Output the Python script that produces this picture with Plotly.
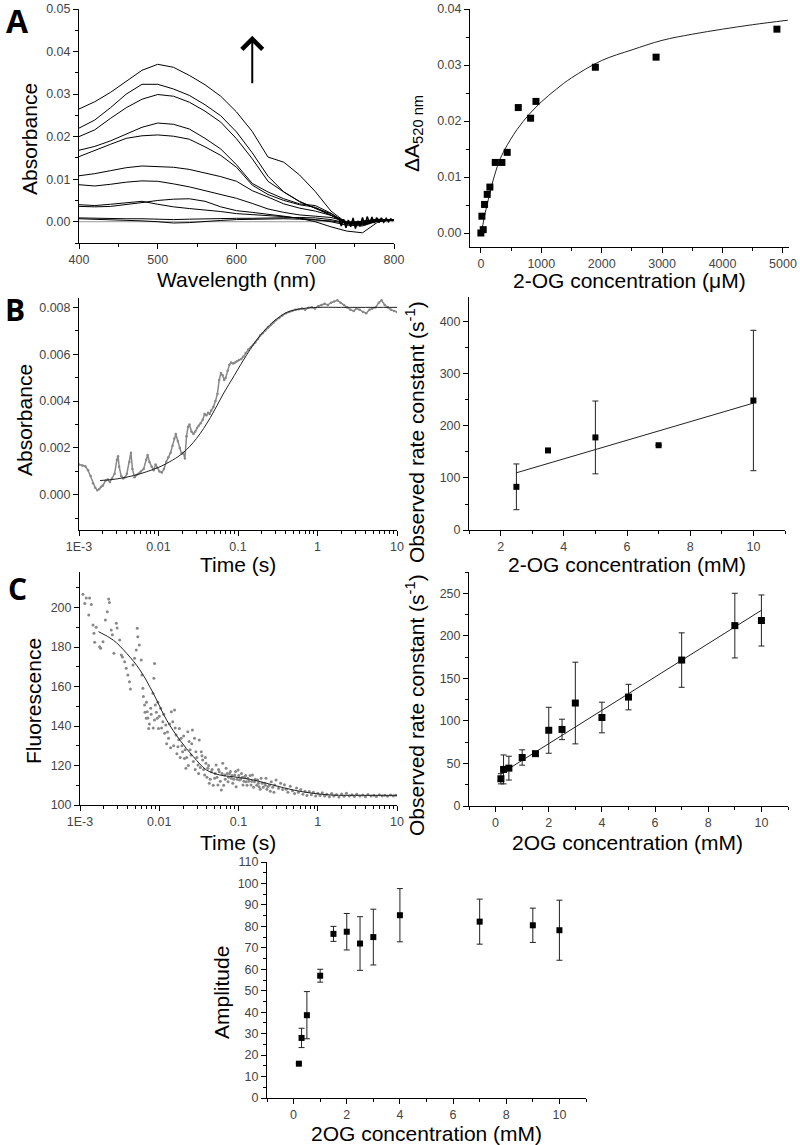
import plotly.graph_objects as go

# ---------------- A (left): absorbance spectra ----------------
wavelength = [400, 420, 440, 460, 480, 500, 520, 540, 560, 580, 600,
              620, 640, 660, 680, 700, 720, 740, 760, 780, 800]
spec_1 = [0.0265, 0.0282, 0.0304, 0.0331, 0.0356, 0.0370, 0.0363, 0.0344, 0.0322, 0.0295, 0.0258,
          0.0212, 0.0152, 0.0140, 0.0110, 0.0071, 0.0025, -0.0003, 0.0002, 0.0006, 0.0004]
spec_2 = [0.0220, 0.0239, 0.0268, 0.0300, 0.0323, 0.0323, 0.0312, 0.0297, 0.0275, 0.0249, 0.0211,
          0.0162, 0.0107, 0.0070, 0.0047, 0.0032, 0.0019, -0.0003, 0.0000, 0.0005, 0.0004]
spec_3 = [0.0200, 0.0216, 0.0243, 0.0268, 0.0288, 0.0299, 0.0295, 0.0281, 0.0260, 0.0234, 0.0195,
          0.0148, 0.0095, 0.0070, 0.0048, 0.0032, 0.0015, -0.0005, -0.0003, 0.0004, 0.0004]
spec_4 = [0.0168, 0.0177, 0.0190, 0.0206, 0.0222, 0.0232, 0.0229, 0.0218, 0.0196, 0.0171, 0.0134,
          0.0090, 0.0070, 0.0054, 0.0042, 0.0038, 0.0020, -0.0005, -0.0008, 0.0003, 0.0004]
spec_5 = [0.0153, 0.0168, 0.0182, 0.0196, 0.0202, 0.0204, 0.0201, 0.0194, 0.0176, 0.0156, 0.0128,
          0.0086, 0.0064, 0.0050, 0.0040, 0.0034, 0.0016, -0.0003, -0.0006, 0.0003, 0.0004]
spec_6 = [0.0108, 0.0113, 0.0120, 0.0127, 0.0131, 0.0130, 0.0128, 0.0123, 0.0115, 0.0106, 0.0095,
          0.0073, 0.0058, 0.0042, 0.0032, 0.0025, 0.0015, 0.0000, -0.0004, 0.0004, 0.0004]
spec_7 = [0.0087, 0.0084, 0.0088, 0.0093, 0.0096, 0.0095, 0.0089, 0.0082, 0.0073, 0.0064, 0.0055,
          0.0043, 0.0030, 0.0022, 0.0016, 0.0013, 0.0010, 0.0000, -0.0002, 0.0004, 0.0004]
spec_8 = [0.0040, 0.0038, 0.0041, 0.0044, 0.0048, 0.0041, 0.0035, 0.0031, 0.0028, 0.0024, 0.0019,
          0.0017, 0.0015, 0.0012, 0.0008, 0.0005, 0.0000, -0.0008, -0.0010, 0.0002, 0.0004]
spec_9 = [0.0036, 0.0035, 0.0036, 0.0040, 0.0045, 0.0050, 0.0053, 0.0054, 0.0048, 0.0035, 0.0026,
          0.0022, 0.0018, 0.0013, 0.0008, 0.0000, -0.0012, -0.0022, -0.0026, 0.0000, 0.0004]
spec_10 = [0.0009, 0.0008, 0.0007, 0.0007, 0.0007, 0.0006, 0.0005, 0.0006, 0.0007, 0.0008, 0.0008,
           0.0008, 0.0009, 0.0010, 0.0010, 0.0009, 0.0005, -0.0003, -0.0005, 0.0003, 0.0004]
spec_11 = [0.0007, 0.0006, 0.0005, 0.0004, 0.0002, 0.0000, -0.0003, -0.0002, 0.0001, 0.0003, 0.0005,
           0.0006, 0.0007, 0.0007, 0.0006, 0.0004, 0.0002, -0.0004, -0.0006, 0.0002, 0.0004]
spectra = [spec_1, spec_2, spec_3, spec_4, spec_5, spec_6, spec_7, spec_8, spec_9, spec_10, spec_11]
baseline = [0.0] * len(wavelength)
# noisy tail where all spectra overlap
tail_wl = [730, 733, 736, 739, 742, 745, 748, 751, 754, 757, 760, 763,
           766, 769, 772, 775, 778, 781, 784, 787, 790, 793, 796, 799]
tail_abs = [0.0008, -0.0010, 0.0006, -0.0014, 0.0004, -0.0012, 0.0009, -0.0016, 0.0002, -0.0011,
            0.0010, -0.0008, 0.0012, -0.0004, 0.0011, -0.0003, 0.0010, -0.0002, 0.0009, -0.0001,
            0.0008, 0.0000, 0.0007, 0.0002]

# ---------------- A (right): dA520 vs 2-OG ----------------
og_um = [0, 39, 17, 61, 105, 149, 238, 348, 436, 619, 823, 912, 1895, 2900, 4900]
dA520 = [0.0000, 0.0006, 0.0030, 0.0051, 0.0069, 0.0082, 0.0126, 0.0126, 0.0144,
         0.0224, 0.0205, 0.0235, 0.0296, 0.0314, 0.0364]
fit_um = [10, 50, 100, 200, 300, 400, 600, 800, 1000, 1250, 1500, 2000, 2500, 3000,
          3500, 4000, 4500, 5080]
fit_dA = [0.0000, 0.0025, 0.0049, 0.0093, 0.0127, 0.0150, 0.0185, 0.0212, 0.0234, 0.0257,
          0.0277, 0.0308, 0.0327, 0.0344, 0.0355, 0.0364, 0.0372, 0.0380]

# ---------------- B (left): absorbance trace ----------------
b_time = [0.00100, 0.00110, 0.00120, 0.00130, 0.00140, 0.00150, 0.00160, 0.00170, 0.00180, 0.00190,
          0.00200, 0.00215, 0.00230, 0.00245, 0.00260, 0.00280, 0.00300, 0.00310, 0.00320, 0.00340,
          0.00360, 0.00380, 0.00400, 0.00430, 0.00450, 0.00470, 0.00500, 0.00530, 0.00560, 0.00600,
          0.00650, 0.00700, 0.00730, 0.00770, 0.00820, 0.00870, 0.00920, 0.00970, 0.0103, 0.0110,
          0.0117, 0.0125, 0.0133, 0.0142, 0.0150, 0.0158, 0.0165, 0.0175, 0.0185, 0.0195,
          0.0205, 0.0215, 0.0225, 0.0235, 0.0245, 0.0260, 0.0275, 0.0290, 0.0305, 0.0320,
          0.0340, 0.0360, 0.0380, 0.0400, 0.0420, 0.0440, 0.0460, 0.0490, 0.0520, 0.0550,
          0.0580, 0.0610, 0.0640, 0.0670, 0.0700, 0.0740, 0.0780, 0.0820, 0.0870, 0.0920,
          0.0970, 0.103, 0.110, 0.117, 0.125, 0.135, 0.145, 0.155, 0.165, 0.178,
          0.190, 0.205, 0.220, 0.240, 0.260, 0.280, 0.300, 0.330, 0.360, 0.400,
          0.440, 0.480, 0.530, 0.580, 0.640, 0.700, 0.770, 0.850, 0.930, 1.02,
          1.12, 1.23, 1.35, 1.48, 1.62, 1.78, 1.95, 2.15, 2.35, 2.60,
          2.85, 3.10, 3.40, 3.75, 4.10, 4.50, 4.90, 5.40, 5.90, 6.40,
          7.00, 7.70, 8.40, 9.20, 10.0]
b_abs = [0.00130, 0.00125, 0.00122, 0.00105, 0.00080, 0.00050, 0.00030, 0.00020, 0.00025, 0.00035,
         0.00040, 0.00060, 0.00065, 0.00055, 0.00070, 0.00090, 0.00150, 0.00165, 0.00120, 0.00080,
         0.00070, 0.00075, 0.00090, 0.00140, 0.00180, 0.00110, 0.00075, 0.00085, 0.00090, 0.00100,
         0.00110, 0.00150, 0.00170, 0.00140, 0.00120, 0.00105, 0.00130, 0.00115, 0.00100, 0.00095,
         0.00110, 0.00140, 0.00160, 0.00180, 0.00210, 0.00240, 0.00260, 0.00230, 0.00200, 0.00175,
         0.00180, 0.00155, 0.00250, 0.00290, 0.00300, 0.00270, 0.00260, 0.00270, 0.00285, 0.00295,
         0.00305, 0.00320, 0.00345, 0.00340, 0.00350, 0.00345, 0.00360, 0.00375, 0.00400, 0.00430,
         0.00490, 0.00520, 0.00510, 0.00490, 0.00500, 0.00530, 0.00555, 0.00565, 0.00560, 0.00565,
         0.00570, 0.00575, 0.00580, 0.00590, 0.00605, 0.00620, 0.00630, 0.00640, 0.00650, 0.00665,
         0.00680, 0.00690, 0.00700, 0.00715, 0.00725, 0.00735, 0.00745, 0.00755, 0.00765, 0.00775,
         0.00780, 0.00785, 0.00790, 0.00792, 0.00795, 0.00790, 0.00798, 0.00800, 0.00795, 0.00805,
         0.00810, 0.00815, 0.00810, 0.00820, 0.00825, 0.00830, 0.00820, 0.00810, 0.00800, 0.00790,
         0.00785, 0.00795, 0.00790, 0.00780, 0.00775, 0.00790, 0.00795, 0.00800, 0.00820, 0.00830,
         0.00810, 0.00800, 0.00790, 0.00785, 0.00780]
b_fit_time = [0.00184, 0.00300, 0.00482, 0.00700, 0.01045, 0.0150, 0.0205, 0.0300, 0.0450, 0.0650,
              0.0900, 0.130, 0.190, 0.280, 0.420, 0.650, 1.0, 2.0, 5.0, 10.0]
b_fit_abs = [0.00061, 0.00068, 0.00082, 0.00098, 0.00120, 0.00148, 0.00180, 0.00240, 0.00330, 0.00430,
             0.00510, 0.00600, 0.00680, 0.00740, 0.00780, 0.00795, 0.00800, 0.00800, 0.00800, 0.00800]

# ---------------- B (right): kobs vs 2-OG ----------------
b_conc = [2.5, 3.5, 5, 7, 10]
b_kobs = [83, 153, 178, 163, 249]
b_kerr = [44, 0, 70, 0, 135]
b_fit_conc = [2.5, 10]
b_fit_k = [110, 244]

# ---------------- C (left): fluorescence trace ----------------
c_time = [0.00109, 0.00115, 0.00120, 0.00129, 0.00132, 0.00139, 0.00146, 0.00150, 0.00153, 0.00160,
          0.00177, 0.00182, 0.00195, 0.00209, 0.00221, 0.00230, 0.00235, 0.00248, 0.00256, 0.00268,
          0.00287, 0.00294, 0.00316, 0.00332, 0.00343, 0.00366, 0.00383, 0.00402, 0.00421, 0.00432,
          0.00466, 0.00488, 0.00513, 0.00528, 0.00536, 0.00560, 0.00593, 0.00605, 0.00622, 0.00653,
          0.00686, 0.00706, 0.00736, 0.00781, 0.00832, 0.00856, 0.00873, 0.00890, 0.00943, 0.00978,
          0.0104, 0.0111, 0.0117, 0.0121, 0.0131, 0.0142, 0.0148, 0.0156, 0.0163, 0.0172,
          0.0179, 0.0189, 0.0197, 0.0208, 0.0217, 0.0229, 0.0238, 0.0252, 0.0262, 0.0279,
          0.0290, 0.0308, 0.0320, 0.0339, 0.0353, 0.0374, 0.0388, 0.0411, 0.0428, 0.0452,
          0.0500, 0.0521, 0.0550, 0.0573, 0.0607, 0.0632, 0.0669, 0.0697, 0.0738, 0.0768,
          0.0813, 0.0847, 0.0897, 0.0934, 0.0988, 0.103, 0.109, 0.114, 0.120, 0.125,
          0.131, 0.144, 0.150, 0.159, 0.175, 0.182, 0.193, 0.213, 0.222, 0.235,
          0.259, 0.286, 0.298]
c_fluor = [206.7, 202.0, 204.8, 196.2, 204.8, 201.6, 191.1, 187.0, 182.4, 190.0,
           180.2, 179.4, 182.7, 193.7, 197.9, 204.3, 202.5, 188.6, 186.2, 176.8,
           192.0, 189.6, 183.5, 176.0, 175.0, 172.6, 169.2, 165.8, 162.4, 158.7,
           170.9, 174.3, 178.5, 189.5, 185.2, 181.0, 173.4, 165.8, 159.1, 150.6,
           143.9, 147.2, 138.8, 149.0, 156.6, 164.2, 171.7, 150.6, 143.9, 138.8,
           149.0, 142.2, 136.3, 140.5, 133.8, 147.2, 142.2, 148.1, 135.4, 129.5,
           138.8, 133.8, 127.0, 123.6, 118.6, 137.1, 132.1, 125.3, 138.0, 133.8,
           127.0, 120.3, 132.9, 127.0, 122.8, 115.2, 121.1, 118.6, 111.0, 116.9,
           113.5, 120.3, 110.1, 116.9, 107.6, 121.1, 115.2, 118.6, 111.8, 116.0,
           113.5, 111.0, 115.2, 109.3, 117.7, 112.7, 116.0, 110.1, 114.3, 111.8,
           113.5, 110.1, 115.2, 111.8, 112.7, 109.3, 113.5, 111.0, 113.5, 109.3,
           111.8, 110.1, 112.7]
c_time_2 = [0.0063, 0.0066, 0.0069, 0.0072, 0.0075, 0.0079, 0.0084, 0.0087, 0.0092, 0.0096,
            0.0100, 0.0107, 0.0114, 0.0124, 0.0127, 0.0135, 0.0139, 0.0152, 0.0159, 0.0167,
            0.0176, 0.0184, 0.0193, 0.0203, 0.0212, 0.0222, 0.0233, 0.0245, 0.0257, 0.0270,
            0.0284, 0.0298, 0.0314, 0.0330, 0.0346, 0.0363, 0.0381, 0.0400, 0.0420, 0.0440,
            0.0465, 0.0480, 0.0510, 0.0535, 0.0560, 0.0590, 0.0620, 0.0650, 0.0680, 0.0720,
            0.0750, 0.0790, 0.0830, 0.0870, 0.0920, 0.0960, 0.101, 0.106, 0.112, 0.117,
            0.123, 0.128, 0.135, 0.140, 0.147, 0.155, 0.163, 0.170, 0.178, 0.188,
            0.198, 0.205, 0.218, 0.228, 0.245, 0.252, 0.270, 0.280]
c_fluor_2 = [155, 147, 152, 144, 141, 146, 139, 143, 147, 152,
             145, 139, 146, 131, 137, 141, 129, 130, 139, 126,
             133, 124, 130, 135, 128, 124, 120, 128, 131, 122,
             118, 124, 116, 119, 125, 118, 124, 114, 120, 113,
             118, 110, 116, 114, 118, 112, 116, 110, 113, 116,
             114, 117, 115, 113, 117, 113, 115, 113, 114, 112,
             115, 110, 112, 115, 112, 109, 113, 110, 111, 108,
             111, 109, 110, 108, 110, 107, 109, 106.5]
c_time_3 = [0.32, 0.34, 0.36, 0.38, 0.40, 0.42, 0.45, 0.48, 0.51, 0.54,
            0.57, 0.61, 0.65, 0.69, 0.73, 0.78, 0.83, 0.88, 0.94, 1.0,
            1.07, 1.14, 1.22, 1.3, 1.4, 1.5, 1.6, 1.72, 1.85, 2.0,
            2.15, 2.3, 2.5, 2.7, 2.9, 3.1, 3.4, 3.7, 4.0, 4.3,
            4.7, 5.1, 5.5, 6.0, 6.5, 7.0, 7.6, 8.3, 9.0, 9.7]
c_fluor_3 = [108.5, 111.0, 107.8, 110.2, 108.0, 106.5, 109.5, 107.2, 105.8, 108.6,
             106.4, 107.8, 105.5, 107.0, 104.8, 106.8, 105.2, 106.5, 104.5, 105.9,
             104.8, 106.2, 104.6, 105.5, 104.2, 105.8, 104.5, 105.3, 104.0, 105.6,
             104.4, 106.0, 104.6, 105.2, 104.3, 105.4, 104.5, 105.1, 104.2, 105.3,
             104.6, 105.0, 104.3, 105.2, 104.5, 105.0, 104.4, 105.1, 104.6, 104.9]
c_fit_time = [0.00171, 0.00263, 0.00388, 0.00571, 0.0084, 0.0124, 0.0182, 0.0269, 0.0396, 0.0582,
              0.0857, 0.153, 0.274, 0.49, 0.875, 1.56, 3.0, 10.0]
c_fit_fluor = [187.8, 183.5, 176.8, 168.4, 156.6, 143.0, 132.9, 124.5, 117.7, 115.2,
               114.3, 112.7, 110.1, 107.6, 105.9, 105.0, 104.9, 104.9]

# ---------------- C (right): kobs vs 2OG ----------------
c_conc = [0.2, 0.3, 0.5, 1, 1.5, 2, 2.5, 3, 4, 5, 7, 9, 10]
c_kobs = [32, 43, 44.5, 57, 61.5, 89, 90, 121, 104, 128, 171.5, 212, 218]
c_kerr = [6, 17, 14, 9, 2, 27, 12, 48, 18, 15, 32, 38, 30]
c_fit_conc = [0.2, 10]
c_fit_k = [38, 230]

# ---------------- bottom: amplitude vs 2OG ----------------
d_conc = [0.2, 0.3, 0.5, 1, 1.5, 2, 2.5, 3, 4, 7, 9, 10]
d_amp = [16, 28, 38.6, 57, 76.5, 77.5, 72, 75, 85.2, 82.2, 80.5, 78.2]
d_err = [0, 4.5, 11, 3, 3.5, 8.5, 12.5, 13, 12.4, 10.5, 8, 14]

W, H = 800, 1145
FONT = "Liberation Sans, Arial, sans-serif"
TICKFONT = dict(family=FONT, size=12.5, color="#444")


def px_x(a, b):
    return [a / W, b / W]


def px_y(top, bottom):
    return [1 - bottom / H, 1 - top / H]


def axis(domain, rng, anchor, dtick=None, minor_dtick=None, **kw):
    d = dict(domain=domain, range=rng, anchor=anchor, showline=True, linecolor="black",
             linewidth=1, ticks="outside", ticklen=5, tickwidth=1, tickcolor="black",
             showgrid=False, zeroline=False, tickfont=TICKFONT, automargin=False)
    if dtick is not None:
        d["dtick"] = dtick
        d["tick0"] = 0
    if minor_dtick is not None:
        d["minor"] = dict(ticks="outside", ticklen=3, tickcolor="black", dtick=minor_dtick,
                          showgrid=False)
    d.update(kw)
    return d


log_minor = [m * 10.0 ** e for e in range(-3, 1) for m in range(2, 10)]
log_axis = dict(type="log", tickvals=[0.001, 0.01, 0.1, 1, 10],
                ticktext=["1E-3", "0.01", "0.1", "1", "10"],
                minor=dict(ticks="outside", ticklen=3, tickcolor="black", tickvals=log_minor))

fig = go.Figure()

# A left
fig.add_trace(go.Scatter(x=wavelength, y=baseline, mode="lines",
                         line=dict(color="#999", width=1), xaxis="x", yaxis="y"))
for s in spectra:
    fig.add_trace(go.Scatter(x=wavelength, y=s, mode="lines",
                             line=dict(color="black", width=1), xaxis="x", yaxis="y"))
fig.add_trace(go.Scatter(x=tail_wl, y=tail_abs, mode="lines",
                         line=dict(color="black", width=1.5), xaxis="x", yaxis="y"))

# A right
fig.add_trace(go.Scatter(x=fit_um, y=fit_dA, mode="lines", line=dict(color="#222", width=1),
                         line_shape="spline", xaxis="x2", yaxis="y2"))
fig.add_trace(go.Scatter(x=og_um, y=dA520, mode="markers",
                         marker=dict(symbol="square", size=7, color="black"),
                         xaxis="x2", yaxis="y2"))

# B left
fig.add_trace(go.Scatter(x=b_time, y=b_abs, mode="lines+markers",
                         line=dict(color="#888", width=1.5),
                         marker=dict(color="#888", size=2.5), xaxis="x3", yaxis="y3"))
fig.add_trace(go.Scatter(x=b_fit_time, y=b_fit_abs, mode="lines", line_shape="spline",
                         line=dict(color="#222", width=1), xaxis="x3", yaxis="y3"))

# B right
fig.add_trace(go.Scatter(x=b_fit_conc, y=b_fit_k, mode="lines", line=dict(color="#222", width=1),
                         xaxis="x4", yaxis="y4"))
fig.add_trace(go.Scatter(x=b_conc, y=b_kobs, mode="markers",
                         marker=dict(symbol="square", size=6, color="black"),
                         error_y=dict(type="data", array=b_kerr, color="#222", thickness=1, width=3),
                         xaxis="x4", yaxis="y4"))

# C left
for tx, fy in [(c_time, c_fluor), (c_time_2, c_fluor_2), (c_time_3, c_fluor_3)]:
    fig.add_trace(go.Scatter(x=tx, y=fy, mode="markers", marker=dict(color="#888", size=3),
                             xaxis="x5", yaxis="y5"))
fig.add_trace(go.Scatter(x=c_fit_time, y=c_fit_fluor, mode="lines", line_shape="spline",
                         line=dict(color="#222", width=1), xaxis="x5", yaxis="y5"))

# C right
fig.add_trace(go.Scatter(x=c_fit_conc, y=c_fit_k, mode="lines", line=dict(color="#222", width=1),
                         xaxis="x6", yaxis="y6"))
fig.add_trace(go.Scatter(x=c_conc, y=c_kobs, mode="markers",
                         marker=dict(symbol="square", size=7, color="black"),
                         error_y=dict(type="data", array=c_kerr, color="#222", thickness=1, width=3),
                         xaxis="x6", yaxis="y6"))

# bottom
fig.add_trace(go.Scatter(x=d_conc, y=d_amp, mode="markers",
                         marker=dict(symbol="square", size=6, color="black"),
                         error_y=dict(type="data", array=d_err, color="#222", thickness=1, width=3),
                         xaxis="x7", yaxis="y7"))

fig.update_layout(
    width=W, height=H, margin=dict(l=0, r=0, t=0, b=0, pad=0, autoexpand=False),
    paper_bgcolor="white", plot_bgcolor="white", showlegend=False,
    xaxis=axis(px_x(79, 394), [400, 800], "y", 100, 50),
    yaxis=axis(px_y(9, 243), [-0.005, 0.05], "x", 0.01, 0.005, tickformat=".2f"),
    xaxis2=axis(px_x(470, 789), [-180, 5100], "y2", 1000, 500),
    yaxis2=axis(px_y(9, 247), [-0.0025, 0.04], "x2", 0.01, 0.005, tickformat=".2f"),
    xaxis3=axis(px_x(79, 397), [-3, 1], "y3", **log_axis),
    yaxis3=axis(px_y(298, 530), [-0.0015, 0.0084], "x3", 0.002, 0.001, tickformat=".3f"),
    xaxis4=axis(px_x(469, 785), [1, 11], "y4", 2, 1),
    yaxis4=axis(px_y(297, 530), [0, 448], "x4", 100, 50),
    xaxis5=axis(px_x(80, 397), [-3, 1], "y5", **log_axis),
    yaxis5=axis(px_y(572, 805), [100, 218], "x5", 20, 10),
    xaxis6=axis(px_x(469, 788), [-1, 11], "y6", 2, 1),
    yaxis6=axis(px_y(572, 806), [0, 275], "x6", 50, 25),
    xaxis7=axis(px_x(267, 586), [-1, 11], "y7", 2, 1),
    yaxis7=axis(px_y(862, 1098), [0, 110], "x7", 10, 5),
)


def label(text, x, y, size=21, angle=0, family=FONT):
    fig.add_annotation(text=text, x=x / W, y=1 - y / H, xref="paper", yref="paper",
                       showarrow=False, textangle=angle, xanchor="center", yanchor="middle",
                       font=dict(family=family, size=size, color="black"))


label("Wavelength (nm)", 236, 279)
label("Absorbance", 29, 139, angle=-90)
label("2-OG concentration (μM)", 629, 280)
label("ΔA<sub>520 nm</sub>", 413, 134, angle=-90)
label("Time (s)", 238, 565)
label("Absorbance", 25, 420, angle=-90)
label("2-OG concentration (mM)", 627, 564)
label("Observed rate constant (s<sup>-1</sup>)", 415, 432, angle=-90)
label("Time (s)", 238, 842)
label("Fluorescence", 33, 701, angle=-90)
label("2OG concentration (mM)", 627, 842)
label("Observed rate constant (s<sup>-1</sup>)", 415, 705, angle=-90)
label("2OG concentration (mM)", 426, 1133)
label("Amplitude", 221, 993, angle=-90)
label("<b>A</b>", 17, 21, size=32, family="Open Sans, sans-serif")
label("<b>B</b>", 15, 309, size=30, family="Open Sans, sans-serif")
label("<b>C</b>", 17, 588, size=30, family="Open Sans, sans-serif")

# arrow showing the direction of increasing 2-OG
fig.add_annotation(x=620, y=0.0437, ax=620, ay=0.0322, xref="x", yref="y", axref="x", ayref="y",
                   text="", showarrow=True, arrowhead=4, arrowsize=2, arrowwidth=2,
                   arrowcolor="black")

# drop the browser's default 8px page margin so the figure sits at the corner
fig.write_html("out.html", config={"displayModeBar": False},
               post_script="document.body.style.margin = '0';")
